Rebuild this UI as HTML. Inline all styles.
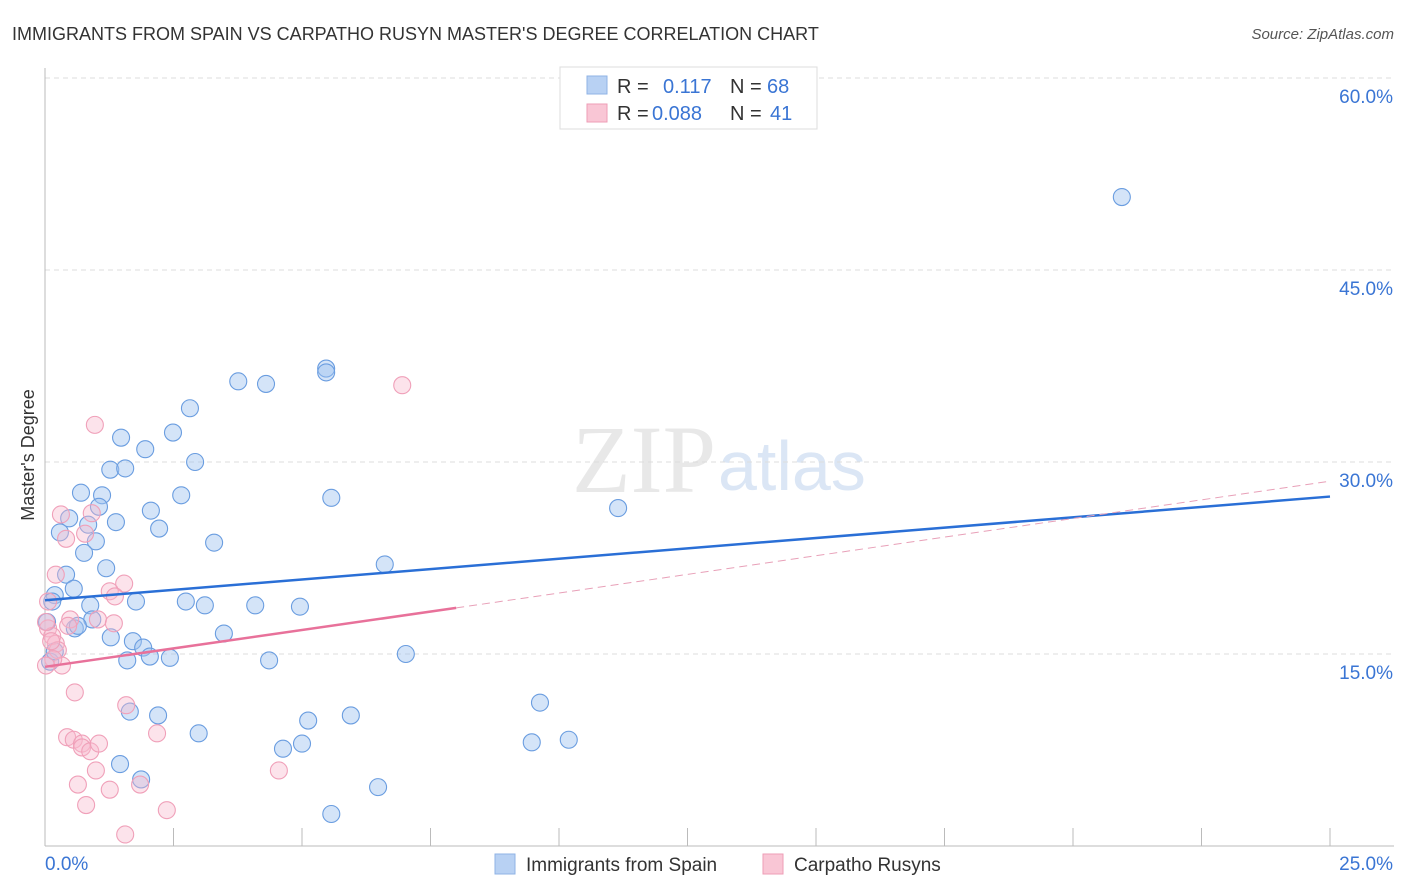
<!DOCTYPE html>
<html><head><meta charset="utf-8">
<style>
body{margin:0;background:#fff;font-family:"Liberation Sans",sans-serif;}
svg{display:block}
</style></head>
<body>
<svg id="chart" width="1406" height="892" xmlns="http://www.w3.org/2000/svg">
<text x="12" y="40" font-size="18" fill="#333">IMMIGRANTS FROM SPAIN VS CARPATHO RUSYN MASTER'S DEGREE CORRELATION CHART</text>
<text x="1394" y="39" font-size="15" fill="#555" font-style="italic" text-anchor="end">Source: ZipAtlas.com</text>
<text x="716" y="492" font-size="96" fill="#e8e8e8" text-anchor="end" font-family="Liberation Serif, serif">ZIP</text>
<text x="718" y="490" font-size="70" fill="#dbe6f5">atlas</text>
<text transform="translate(34,455) rotate(-90)" font-size="18" fill="#333" text-anchor="middle">Master's Degree</text>
<g id="grid"></g><g id="pts"></g><g id="lines"></g>
<g>
<rect x="560" y="67" width="257" height="62" fill="#fff" stroke="#ddd"/>
<rect x="587" y="76" width="20" height="18" fill="#b8d1f3" stroke="#8fb3e6"/>
<rect x="587" y="104" width="20" height="18" fill="#f9c6d5" stroke="#ee9db6"/>
<text x="617" y="93" font-size="20" fill="#333">R = <tspan x="663" fill="#3a75d4">0.117</tspan><tspan x="730" fill="#333">N = </tspan><tspan x="767" fill="#3a75d4">68</tspan></text>
<text x="617" y="120" font-size="20" fill="#333">R = <tspan x="652" fill="#3a75d4">0.088</tspan><tspan x="730" fill="#333">N = </tspan><tspan x="770" fill="#3a75d4">41</tspan></text>
</g>
<g>
<rect x="495" y="854" width="20" height="20" fill="#b8d1f3" stroke="#8fb3e6"/>
<text x="526" y="871" font-size="19" fill="#333">Immigrants from Spain</text>
<rect x="763" y="854" width="20" height="20" fill="#f9c6d5" stroke="#ee9db6"/>
<text x="794" y="871" font-size="19" fill="#333">Carpatho Rusyns</text>
</g>
</svg>
<script>
const yTicks=[15,30,45,60];
const xTickLabels=["0.0%","25.0%"];
const spainX=[20.95,5.47,5.47,3.76,4.3,2.82,2.49,1.48,1.95,2.92,1.27,1.56,2.65,5.57,0.7,1.11,1.05,2.06,11.15,0.47,1.38,0.84,2.22,0.29,0.99,3.29,0.76,1.19,6.61,0.41,0.56,0.19,0.14,1.77,2.74,3.11,4.09,4.96,0.88,0.92,3.48,1.28,1.71,1.91,2.04,2.43,1.6,4.36,7.02,0.58,0.64,9.63,2.2,1.65,5.95,5.12,2.99,4.63,5.0,9.47,10.19,1.46,1.87,6.48,5.57,0.1,0.19,0.04];
const spainY=[50.7,37.3,37.0,36.3,36.1,34.2,32.3,31.9,31.0,30.0,29.4,29.5,27.4,27.2,27.6,27.4,26.5,26.2,26.4,25.6,25.3,25.1,24.8,24.5,23.8,23.7,22.9,21.7,22.0,21.2,20.1,19.6,19.1,19.1,19.1,18.8,18.8,18.7,18.8,17.7,16.6,16.3,16.0,15.5,14.8,14.7,14.5,14.5,15.0,17.0,17.2,11.2,10.2,10.5,10.2,9.8,8.8,7.6,8.0,8.1,8.3,6.4,5.2,4.6,2.5,14.4,15.2,17.5];
const rusynX=[6.95,0.97,0.31,0.91,0.78,0.41,0.21,1.54,1.26,1.36,0.06,0.49,1.03,0.45,1.34,0.06,0.14,0.21,0.25,0.33,0.58,1.58,2.18,0.43,0.56,0.72,0.72,0.88,1.05,0.99,4.55,0.64,1.85,1.26,0.8,2.37,1.56,0.12,0.02,0.16,0.02];
const rusynY=[36.0,32.9,25.9,26.0,24.4,24.0,21.2,20.5,19.9,19.5,19.1,17.7,17.7,17.2,17.4,17.0,16.4,15.8,15.3,14.1,12.0,11.0,8.8,8.5,8.3,8.0,7.7,7.4,8.0,5.9,5.9,4.8,4.8,4.4,3.2,2.8,0.9,16.0,17.5,14.6,14.1];
const spainTrend=[19.2,27.3];
const rusynTrend=[14.0,18.6,28.5];
const X0=45,X1=1330,Y0=846,YPX=192/15;
const xs=v=>X0+v/25*(X1-X0), ys=v=>Y0-v*YPX;
const NS="http://www.w3.org/2000/svg";
function mk(tag,attrs,parent){const e=document.createElementNS(NS,tag);for(const k in attrs)e.setAttribute(k,attrs[k]);parent.appendChild(e);return e;}
const grid=document.getElementById('grid');
yTicks.forEach(t=>{
 const l=mk('line',{x1:X0,x2:1394,y1:ys(t),y2:ys(t),stroke:'#ddd','stroke-dasharray':'5,4'},grid);
 
 
 const tx=mk('text',{x:1393,y:ys(t)+25,'font-size':19,fill:'#3a75d4','text-anchor':'end'},grid);
 tx.textContent=t.toFixed(1)+'%';
 
 
});
const ax=mk('line',{x1:X0,x2:X0,y1:68,y2:846,stroke:'#bbb'},grid);


const bx=mk('line',{x1:X0,x2:1394,y1:846,y2:846,stroke:'#bbb'},grid);


for(let i=1;i<=10;i++){const x=X0+i*(X1-X0)/10;const t=mk('line',{x1:x,x2:x,y1:828,y2:846,stroke:'#bbb'},grid);
 
 }
xTickLabels.forEach((s,i)=>{const t=mk('text',{x:i?1393:45,y:870,'font-size':19,fill:'#3a75d4','text-anchor':i?'end':'start'},grid);t.textContent=s;
 
 });
const pts=document.getElementById('pts');
spainX.forEach((v,i)=>{const c=mk('circle',{cx:xs(v),cy:ys(spainY[i]),r:8.5,fill:'rgba(160,195,240,0.45)',stroke:'#6a9de0','stroke-width':1.1},pts);
 
 });
rusynX.forEach((v,i)=>{const c=mk('circle',{cx:xs(v),cy:ys(rusynY[i]),r:8.5,fill:'rgba(248,185,205,0.4)',stroke:'#f0a0b9','stroke-width':1.1},pts);
 
 });
const lines=document.getElementById('lines');
const l1=mk('line',{x1:xs(0),y1:ys(spainTrend[0]),x2:xs(25),y2:ys(spainTrend[1]),stroke:'#2a6fd6','stroke-width':2.5},lines);


const l2=mk('line',{x1:xs(0),y1:ys(rusynTrend[0]),x2:xs(8),y2:ys(rusynTrend[1]),stroke:'#e8719a','stroke-width':2.5},lines);


const l3=mk('line',{x1:xs(8),y1:ys(rusynTrend[1]),x2:xs(25),y2:ys(rusynTrend[2]),stroke:'#e8a0b8','stroke-width':1,'stroke-dasharray':'8,5'},lines);


</script>
</body></html>
